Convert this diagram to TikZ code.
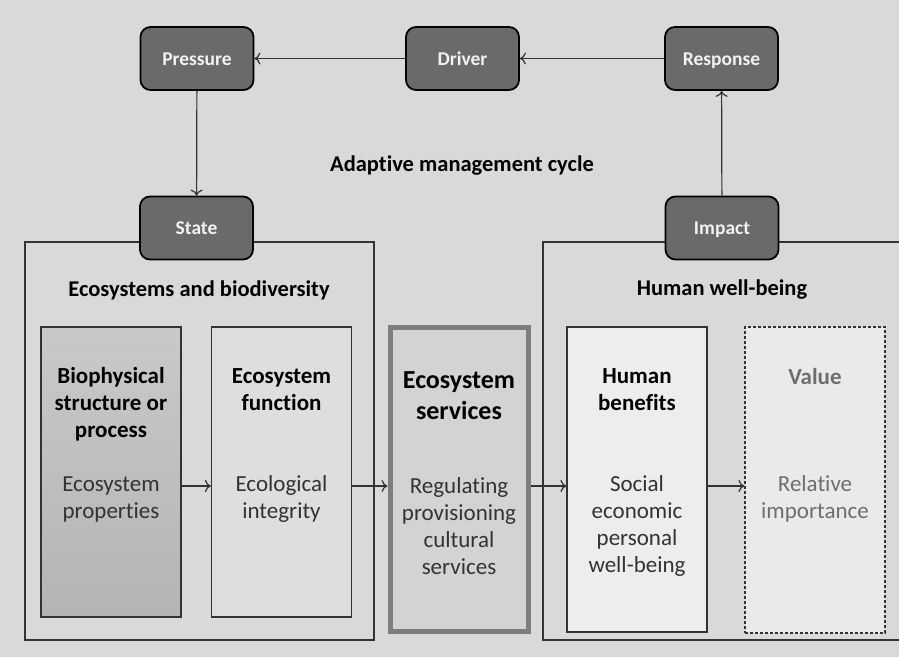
\documentclass[tikz,border=0pt]{standalone}
\usepackage{fontspec}
\setmainfont{Carlito}[Ligatures=NoCommon]
\usetikzlibrary{arrows.meta}
\definecolor{bgcol}{HTML}{D9D9D9}
\definecolor{darkbox}{HTML}{6A6A6A}
\definecolor{linecol}{HTML}{333333}
\definecolor{svcborder}{HTML}{7E7E7E}
\definecolor{svcfill}{HTML}{D3D3D3}
\definecolor{funcfill}{HTML}{DEDEDE}
\definecolor{benfill}{HTML}{EDEDED}
\definecolor{valfill}{HTML}{EAEAEA}
\definecolor{valtext}{HTML}{6E6E6E}
\definecolor{biotop}{HTML}{C9C9C9}
\definecolor{biobot}{HTML}{B4B4B4}
\tikzset{
  cyclebox/.style={draw=black, line width=1.8pt, fill=darkbox, rounded corners=10pt,
    minimum width=113pt, minimum height=63pt, inner sep=0pt,
    text height=15pt, text depth=2pt,
    text=white!95!black, font=\fontsize{19.5}{22}\selectfont\bfseries},
  outerbox/.style={draw=linecol, line width=1.2pt, inner sep=0pt},
  colbox/.style={draw=linecol, line width=1.2pt, inner sep=0pt, minimum width=140pt},
  titletext/.style={align=center, font=\fontsize{23}{27}\selectfont\bfseries, inner sep=0pt},
  bodytext/.style={align=center, font=\fontsize{23}{27}\selectfont, text=black!80, inner sep=0pt},
  headtext/.style={font=\fontsize{22.5}{26}\selectfont\bfseries, inner sep=0pt},
  arr/.style={draw=linecol, line width=1.2pt, -{To[length=6pt,width=12pt]}},
}
\begin{document}
\begin{tikzpicture}[x=1pt,y=-1pt]
\fill[bgcol] (0,0) rectangle (899,657);
\useasboundingbox (0,0) rectangle (899,657);

% outer boxes
\node[outerbox, minimum width=349pt, minimum height=398pt] (eco) at (199.5,441) {};
\node[outerbox, minimum width=362pt, minimum height=398pt] (hw) at (724,441) {};

% cycle boxes
\node[cyclebox] (pressure) at (197,58.5) {Pressure};
\node[cyclebox] (driver) at (462.5,58.5) {Driver};
\node[cyclebox] (response) at (721.5,58.5) {Response};
\node[cyclebox] (state) at (196.5,228) {State};
\node[cyclebox] (impact) at (722,228) {Impact};

\draw[arr] (response) -- (driver);
\draw[arr] (driver) -- (pressure);
\draw[arr] (pressure) -- (state);
\draw[arr] (impact) -- (response);

\node[headtext] (amc) at (462,166) {Adaptive management cycle};
\node[headtext] (ebtitle) at (199,290) {Ecosystems and biodiversity};
\node[headtext] (hwtitle) at (722,290) {Human well-being};

% column boxes
\node[colbox, minimum height=290pt, top color=biotop, bottom color=biobot] (bio) at (111,472) {};
\node[colbox, minimum height=290pt, fill=funcfill] (func) at (281.5,472) {};
\node[draw=svcborder, line width=5pt, fill=svcfill, inner sep=0pt, minimum width=138pt, minimum height=304pt] (svc) at (459,479) {};
\node[colbox, minimum height=305pt, fill=benfill] (ben) at (637,479.5) {};
\node[draw=linecol, dashed, dash pattern=on 3pt off 2pt, line width=1.2pt, inner sep=0pt, minimum width=140pt, minimum height=306pt, fill=valfill] (val) at (815,480) {};

% texts
\node[titletext] (biot) at (111,404) {Biophysical\\structure or\\process};
\node[bodytext] (biob) at (111,499) {Ecosystem\\properties};
\node[titletext] (funct) at (281.5,390) {Ecosystem\\function};
\node[bodytext] (funcb) at (281.5,499) {Ecological\\integrity};
\node[titletext, font=\fontsize{26}{31}\selectfont\bfseries] (svct) at (459,396) {Ecosystem\\services};
\node[bodytext] (svcb) at (459,526) {Regulating\\provisioning\\cultural\\services};
\node[titletext] (bent) at (637,390) {Human\\benefits};
\node[bodytext] (benb) at (637,526) {Social\\economic\\personal\\well-being};
\node[titletext, text=valtext] (valt) at (815,377) {Value};
\node[bodytext, text=valtext] (valb) at (815,499) {Relative\\importance};

% flow arrows
\draw[arr] (bio.east |- 0,486) -- (func.west |- 0,486);
\draw[arr] (func.east |- 0,486) -- (svc.west |- 0,486);
\draw[arr] (svc.east |- 0,486) -- (ben.west |- 0,486);
\draw[arr] (ben.east |- 0,486) -- (val.west |- 0,486);
\end{tikzpicture}
\end{document}
